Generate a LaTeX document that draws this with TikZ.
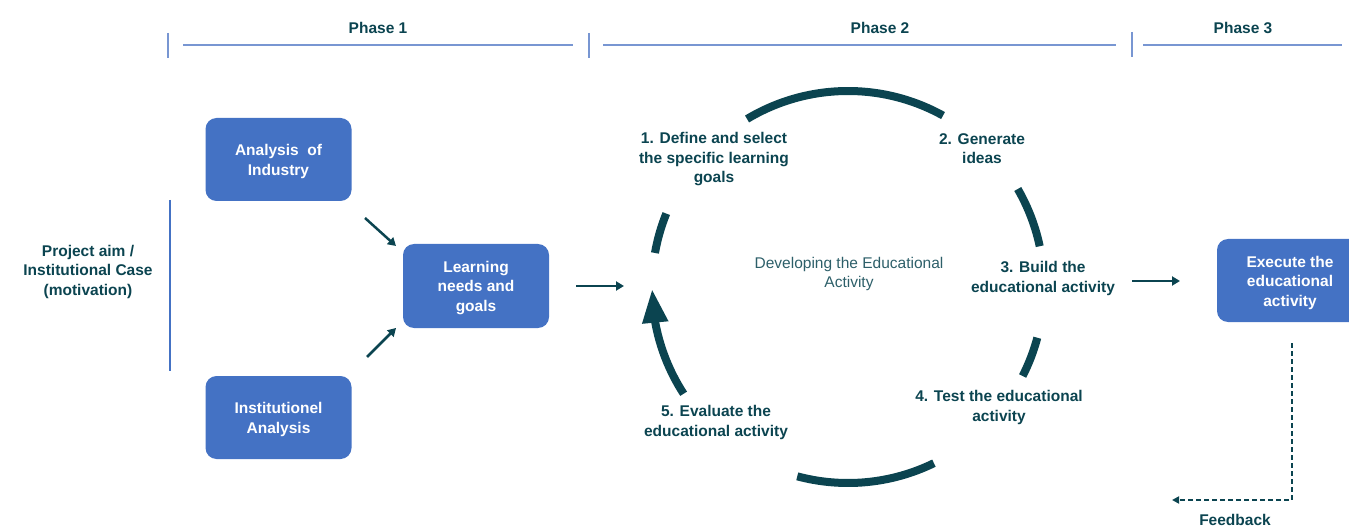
\documentclass[tikz,border=0pt]{standalone}
\usepackage{fontspec}
\setmainfont{Liberation Sans}
\usetikzlibrary{arrows.meta,bending}
\definecolor{teal1}{RGB}{11,68,80}
\definecolor{boxblue}{RGB}{68,114,196}
\definecolor{hdr}{RGB}{120,150,210}
\definecolor{ctext}{RGB}{45,95,105}
\begin{document}
\begin{tikzpicture}[x=1pt,y=1pt,
  lbl/.style={text=teal1, font=\fontsize{15.5}{19.5}\selectfont\bfseries, align=center, inner sep=0pt, yshift=-2pt},
  bx/.style={rectangle, rounded corners=11pt, fill=boxblue, minimum width=146pt, minimum height=83pt, inner sep=0pt},
  bxtext/.style={text=white, font=\fontsize{15.5}{19.5}\selectfont\bfseries, align=center, inner sep=0pt, yshift=-2pt},
  ringseg/.style={line width=8pt, teal1},
  arr/.style={line width=2.5pt, teal1, -{Triangle[length=8pt,width=9pt]}},
  fbline/.style={line width=1.8pt, teal1, dash pattern=on 5pt off 3pt, -{Triangle[length=7pt,width=7pt]}},
  hline/.style={hdr, line width=1.2pt},
  vline/.style={boxblue, line width=1.5pt},
]
\useasboundingbox (0,-529) rectangle (1349,0);
\clip (0,-529) rectangle (1349,0);

% header
\node[lbl] (ph1) at (378,-26) {Phase 1};
\node[lbl] (ph2) at (880,-26) {Phase 2};
\node[lbl] (ph3) at (1243,-26) {Phase 3};
\draw[hline] (168,-33) -- (168,-58);
\draw[hline] (589,-33) -- (589,-58);
\draw[hline] (1132,-32) -- (1132,-57);
\draw[hline] (183,-45) -- (573,-45);
\draw[hline] (603,-45) -- (1116,-45);
\draw[hline] (1143,-45) -- (1342,-45);

% left
\node[lbl] (aim) at (88,-269.5) {Project aim /\\Institutional Case\\(motivation)};
\draw[vline] (170,-200) -- (170,-371);

% boxes
\node[bx, label={[bxtext]center:{Analysis\ \ of\\Industry}}] (ind) at (278.5,-159.5) {};
\node[bx, label={[bxtext]center:{Institutionel\\Analysis}}] (inst) at (278.5,-417.5) {};
\node[bx, minimum height=84pt, label={[bxtext]center:{Learning\\needs and\\goals}}] (learn) at (476,-286) {};
\node[bx, label={[bxtext]center:{Execute the\\educational\\activity}}] (exe) at (1290,-280.5) {};

% arrows
\coordinate (a1s) at (365,-218);
\coordinate (a1e) at (396,-246);
\coordinate (a2s) at (367,-357);
\coordinate (a2e) at (396,-328);
\draw[arr] (a1s) -- (a1e);
\draw[arr] (a2s) -- (a2e);
\coordinate (cin) at (624,-286);
\draw[arr, shorten <=27pt] (learn.east) -- (cin);
\coordinate (bout) at (1132,-281);
\coordinate (bin) at (1180,-281);
\draw[arr] (bout) -- (bin);

% feedback
\coordinate (fb1) at (1292,-343);
\coordinate (fb2) at (1292,-500);
\coordinate (fb3) at (1172,-500);
\draw[fbline] (fb1) -- (fb2) -- (fb3);
\node[lbl, yshift=2pt] (fb) at (1235,-519.5) {Feedback};

% cycle
\coordinate (C) at (848,-287);
\draw[ringseg] ([shift={(61:196)}]C) arc[start angle=61, end angle=121, radius=196];
\draw[ringseg] ([shift={(12:196)}]C) arc[start angle=12, end angle=30, radius=196];
\draw[ringseg] ([shift={(-27:196)}]C) arc[start angle=-27, end angle=-15, radius=196];
\draw[ringseg] ([shift={(255:196)}]C) arc[start angle=255, end angle=296, radius=196];
\draw[ringseg] ([shift={(158:196)}]C) arc[start angle=158, end angle=170, radius=196];
\draw[ringseg, -{Triangle[length=34pt,width=24pt]}] ([shift={(213:196)}]C) arc[start angle=213, end angle=180.5, radius=196];

\node[lbl] (s1) at (714,-157.5) {1. Define and select\\the specific learning\\goals};
\node[lbl] (s2) at (982,-146.5) {2. Generate\\ideas};
\node[lbl] (s3) at (1043,-276.5) {3. Build the\\educational activity};
\node[lbl] (s4) at (999,-405.5) {4. Test the educational\\activity};
\node[lbl] (s5) at (716,-420.5) {5. Evaluate the\\educational activity};
\node[text=ctext, font=\fontsize{15.5}{19.5}\selectfont, align=center, inner sep=0pt, yshift=-2pt] (ctr) at (849,-272) {Developing the Educational\\Activity};
\end{tikzpicture}
\end{document}
